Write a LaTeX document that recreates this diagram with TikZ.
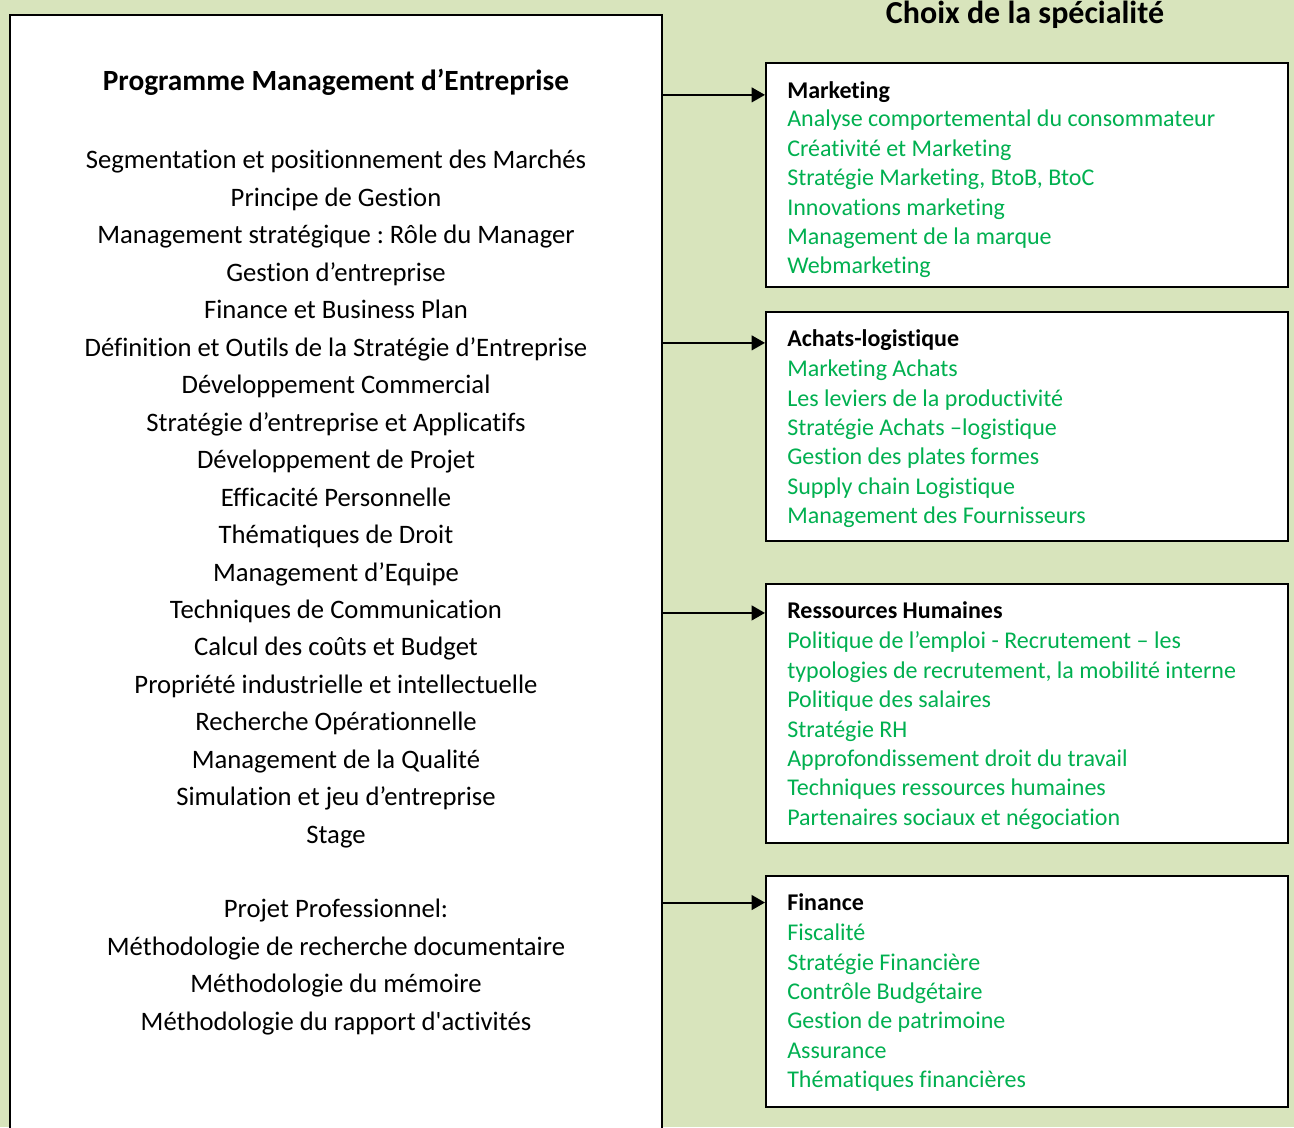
\documentclass[tikz,border=0pt]{standalone}
\usepackage{fontspec}
\newfontfamily\calfont{Carlito}[Ligatures=NoCommon]
\usetikzlibrary{arrows.meta}
\definecolor{bgolive}{RGB}{216,228,188}
\definecolor{tgreen}{RGB}{0,176,80}
\frenchspacing
\begin{document}
\begin{tikzpicture}[x=0.75pt,y=-0.75pt,
 box/.style={draw=black, line width=1.5pt, fill=white, inner sep=0pt},
 lt/.style={font=\calfont\frenchspacing\fontsize{20}{24}\selectfont, anchor=mid, inner sep=0pt},
 ttl/.style={font=\calfont\bfseries\fontsize{22}{26}\selectfont, anchor=mid, inner sep=0pt},
 hd/.style={font=\calfont\bfseries\fontsize{18}{22}\selectfont, anchor=mid west, inner sep=0pt},
 it/.style={font=\calfont\frenchspacing\fontsize{18}{22}\selectfont, anchor=mid west, inner sep=0pt, text=tgreen},
 arr/.style={line width=1.5pt, -{Triangle[length=10pt,width=11pt]}}]
\clip (0,0) rectangle (1294,1127);
\fill[bgolive] (0,0) rectangle (1294,1127);
% left box
\node[box, minimum width=489pt, minimum height=847.5pt] (prog) at (336,580) {};
\node[ttl] (progt) at (336,88) {Programme Management d’Entreprise};
\foreach \t [count=\i from 0] in {Segmentation et positionnement des Marchés, Principe de Gestion, Management stratégique : Rôle du Manager, Gestion d’entreprise, Finance et Business Plan, Définition et Outils de la Stratégie d’Entreprise, Développement Commercial, Stratégie d’entreprise et Applicatifs, Développement de Projet, Efficacité Personnelle, Thématiques de Droit, Management d’Equipe, Techniques de Communication, Calcul des coûts et Budget, Propriété industrielle et intellectuelle, Recherche Opérationnelle, Management de la Qualité, Simulation et jeu d’entreprise, Stage}
  \node[lt] (pl\i) at (336,166+\i*37.47) {\t};
\foreach \t [count=\i from 0] in {Projet Professionnel:, Méthodologie de recherche documentaire, Méthodologie du mémoire, Méthodologie du rapport d'activités}
  \node[lt] (pp\i) at (336,915+\i*37.4) {\t};
% title right
\node[font=\calfont\bfseries\fontsize{24}{28}\selectfont, anchor=mid, inner sep=0pt] (choix) at (1025,21) {Choix de la spécialité};
% right boxes
\node[box, minimum width=391.5pt, minimum height=168pt] (mk) at (1027,175) {};
\node[box, minimum width=391.5pt, minimum height=171.75pt] (al) at (1027,426.5) {};
\node[box, minimum width=391.5pt, minimum height=194.25pt] (rh) at (1027,713.5) {};
\node[box, minimum width=391.5pt, minimum height=173.25pt] (fi) at (1027,991.5) {};
% Marketing
\node[hd] (mkh) at (787,96) {Marketing};
\foreach \t [count=\i from 0] in {Analyse comportemental du consommateur, Créativité et Marketing, {Stratégie Marketing, BtoB, BtoC}, Innovations marketing, Management de la marque, Webmarketing}
  \node[it] (mk\i) at (787,124+\i*29.4) {\t};
% Achats
\node[hd] (alh) at (787,344) {Achats-logistique};
\foreach \t [count=\i from 0] in {Marketing Achats, Les leviers de la productivité, Stratégie Achats –logistique, Gestion des plates formes, Supply chain Logistique, Management des Fournisseurs}
  \node[it] (al\i) at (787,374+\i*29.3) {\t};
% RH
\node[hd] (rhh) at (787,616) {Ressources Humaines};
\foreach \t [count=\i from 0] in {Politique de l’emploi - Recrutement – les, {typologies de recrutement, la mobilité interne}, Politique des salaires, Stratégie RH, Approfondissement droit du travail, Techniques ressources humaines, Partenaires sociaux et négociation}
  \node[it] (rh\i) at (787,646+\i*29.4) {\t};
% Finance
\node[hd] (fih) at (787,908) {Finance};
\foreach \t [count=\i from 0] in {Fiscalité, Stratégie Financière, Contrôle Budgétaire, Gestion de patrimoine, Assurance, Thématiques financières}
  \node[it] (fi\i) at (787,938+\i*29.3) {\t};
% arrows
\draw[arr] ([yshift=-1.8pt]prog.east |- mkh.west) -- ([yshift=-1.8pt]mk.west |- mkh.west);
\draw[arr] ([yshift=-1.8pt]prog.east |- alh.west) -- ([yshift=-1.8pt]al.west |- alh.west);
\draw[arr] ([yshift=-1.8pt]prog.east |- rhh.west) -- ([yshift=-1.8pt]rh.west |- rhh.west);
\draw[arr] (prog.east |- fih.west) -- (fi.west |- fih.west);
\end{tikzpicture}
\end{document}
